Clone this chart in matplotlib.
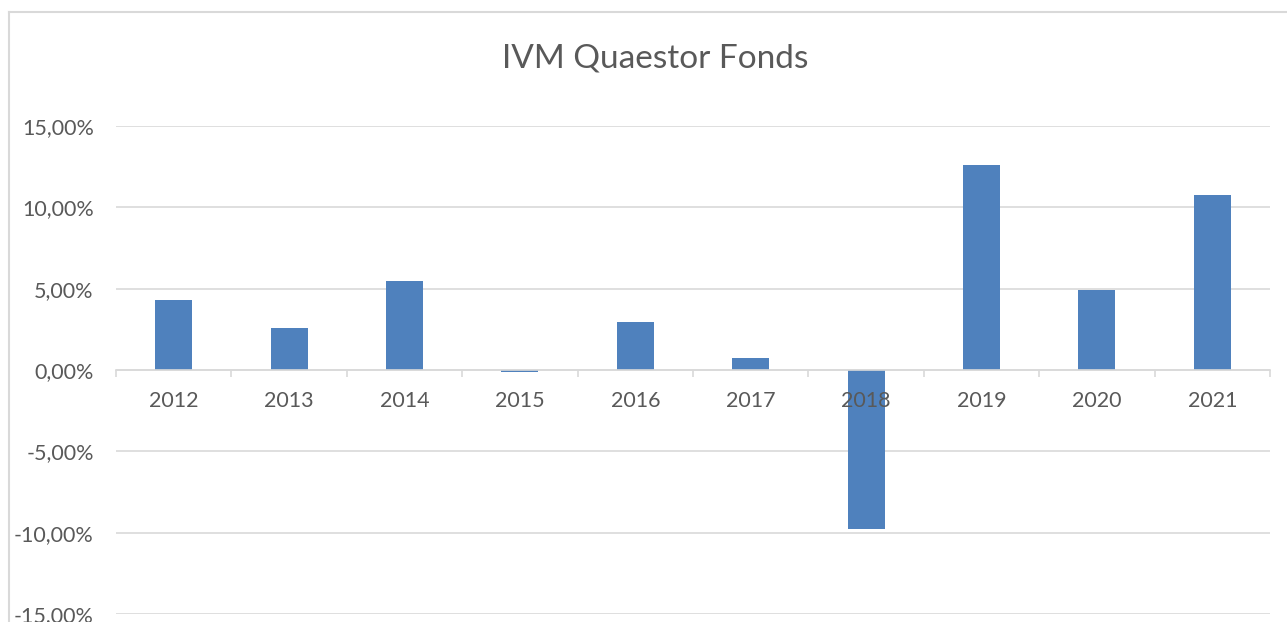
import matplotlib
matplotlib.use('Agg')
import matplotlib.pyplot as plt
import matplotlib.lines as pltlines
from matplotlib.ticker import FuncFormatter, FixedLocator

# values (yearly return in %)
years = ['2012', '2013', '2014', '2015', '2016', '2017', '2018', '2019', '2020', '2021']
returns = [4.32, 2.56, 5.46, -0.13, 2.95, 0.76, -9.79, 12.61, 4.94, 10.74]
y_ticks = [-15, -10, -5, 0, 5, 10, 15]

BAR_COLOR = '#4f81bd'
GRID_COLOR = '#d9d9d9'
TEXT_COLOR = '#595959'

plt.rcParams['font.family'] = ['Lato', 'DejaVu Sans']

fig = plt.figure(figsize=(12.87, 6.22), dpi=100)
axes = fig.add_axes([116 / 1287, 1 - 614 / 622, (1270 - 116) / 1287, (614 - 126) / 622])

positions = list(range(len(years)))
axes.bar(positions, returns, width=0.32, color=BAR_COLOR, zorder=3)

axes.set_xlim(-0.5, len(years) - 0.5)
axes.set_ylim(-15, 15)
axes.set_yticks(y_ticks)
axes.yaxis.set_major_formatter(
    FuncFormatter(lambda v, _: f'{v:.2f}'.replace('.', ',') + '%'))
axes.grid(axis='y', color=GRID_COLOR, linewidth=1.2, zorder=0)

# category labels sit on the zero line, tick marks between categories
axes.set_xticks(positions)
axes.set_xticklabels(years)
axes.xaxis.set_minor_locator(FixedLocator([p - 0.5 for p in range(len(years) + 1)]))
axes.tick_params(axis='x', which='major', length=0, pad=15, labelsize=15.5,
                 labelcolor=TEXT_COLOR)
axes.tick_params(axis='x', which='minor', length=5, width=1.2, color=GRID_COLOR,
                 direction='out')
axes.tick_params(axis='y', length=0, pad=16, labelsize=15.5, labelcolor=TEXT_COLOR)

for side in ['top', 'right', 'left']:
    axes.spines[side].set_visible(False)
axes.spines['bottom'].set_position(('data', 0))
axes.spines['bottom'].set_color(GRID_COLOR)
axes.spines['bottom'].set_linewidth(1.2)
axes.spines['bottom'].set_zorder(4)
# labels are drawn over the bars (2018 label overlaps its bar)
axes.xaxis.set_zorder(5)

fig.text(655 / 1287, 1 - 58 / 622, 'IVM Quaestor Fonds', ha='center', va='center',
         fontsize=24, color=TEXT_COLOR)

# outer chart frame, partly cropped in the reference
frame_x = 8.5 / 1287
frame_y = 1 - 11.5 / 622
fig.add_artist(pltlines.Line2D([frame_x, frame_x], [0, frame_y], color=GRID_COLOR,
                               linewidth=1.5, transform=fig.transFigure))
fig.add_artist(pltlines.Line2D([frame_x, 1], [frame_y, frame_y], color=GRID_COLOR,
                               linewidth=1.5, transform=fig.transFigure))

fig.savefig('out.png', dpi=100, facecolor='white')
